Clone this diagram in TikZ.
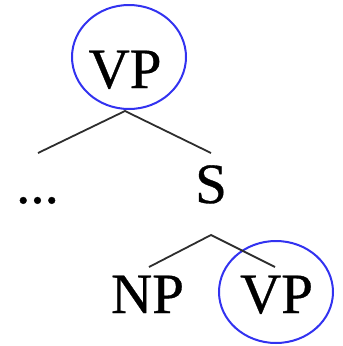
\documentclass[tikz,border=0pt]{standalone}
\usepackage{fontspec}
\setmainfont{Liberation Serif}[FakeBold=0.6]
\definecolor{ringblue}{RGB}{50,50,240}
\definecolor{edgegray}{RGB}{45,45,45}
\begin{document}
\begin{tikzpicture}[x=1pt,y=1pt,
  lbl/.style={inner sep=0pt,anchor=base,font=\fontsize{57}{60}\selectfont},
  ring/.style={draw=ringblue,line width=2pt},
  edge/.style={draw=edgegray,line width=1.8pt}]
\useasboundingbox (0,0) rectangle (343,-346);
\node[lbl] (vp1) at (125,-88) {VP};
\node[lbl] (dots) at (37.5,-203) {...};
\node[lbl] (s) at (211,-203) {S};
\node[lbl] (np) at (147.5,-313) {NP};
\node[lbl] (vp2) at (276.5,-313) {VP};
\draw[ring] (129,-57) ellipse [x radius=57, y radius=52];
\draw[ring] (276,-292) ellipse [x radius=57, y radius=51];
\coordinate (vp1b) at (125,-111);
\coordinate (dotst) at (38,-153);
\coordinate (st) at (211,-153);
\coordinate (sb) at (211,-235);
\coordinate (npt) at (149,-267);
\coordinate (vp2t) at (275,-267);
\draw[edge] (dotst) -- (vp1b) -- (st);
\draw[edge] (npt) -- (sb) -- (vp2t);
\end{tikzpicture}
\end{document}
